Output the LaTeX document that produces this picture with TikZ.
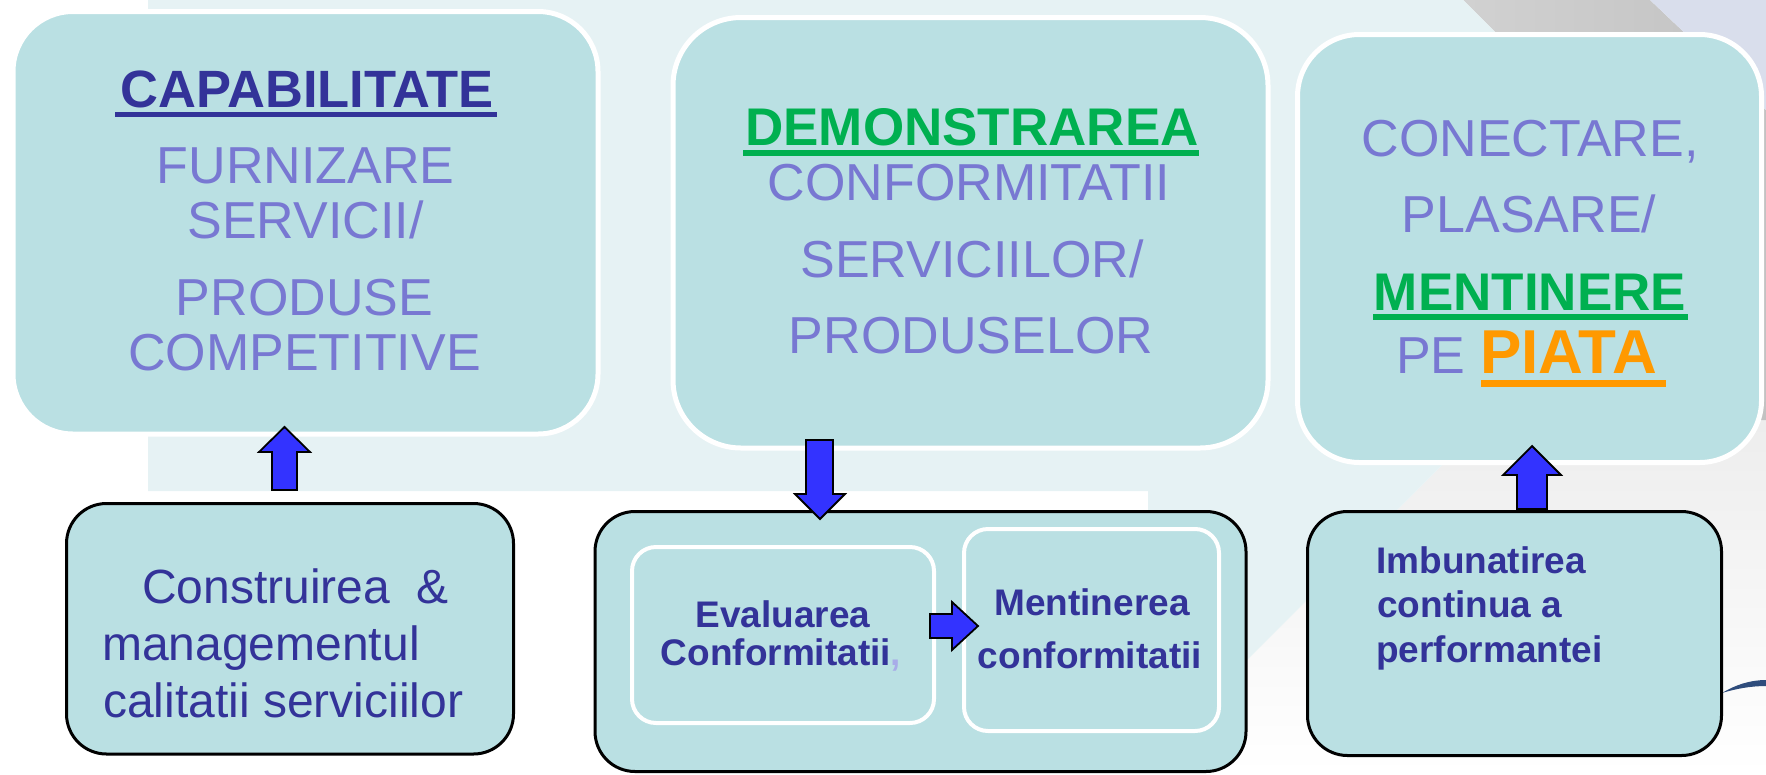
\documentclass[tikz,border=0pt]{standalone}
\usepackage{fontspec}
\setmainfont{Liberation Sans}
\definecolor{boxfill}{HTML}{BAE0E3}
\definecolor{bandc}{HTML}{E6F2F4}
\definecolor{peri}{HTML}{7878D2}
\definecolor{navy}{HTML}{333399}
\definecolor{grn}{HTML}{00B050}
\definecolor{orng}{HTML}{FF9900}
\definecolor{arrblue}{HTML}{3333FF}
\definecolor{lav}{HTML}{D9DEEC}
\definecolor{swooshc}{HTML}{2E4C7C}
\definecolor{commac}{HTML}{A8ACE8}
\newcommand\fs[1]{\fontsize{#1}{#1}\selectfont}
\begin{document}
\begin{tikzpicture}[x=1pt,y=-1pt,
 topbox/.style={draw=white,line width=5pt,fill=boxfill,inner sep=0pt},
 botbox/.style={draw=black,line width=3pt,fill=boxfill,inner sep=0pt,rounded corners=40pt},
 innerbox/.style={draw=white,line width=4pt,fill=boxfill,inner sep=0pt,rounded corners=24pt},
 big/.style={inner sep=0pt,anchor=base,text=peri,font=\fs{52}},
 head/.style={inner sep=0pt,anchor=base,font=\fs{53}\bfseries},
 small/.style={inner sep=0pt,anchor=base,text=navy,font=\fs{37}\bfseries},
 lefttxt/.style={inner sep=0pt,anchor=base west,text=navy,font=\fs{48}},
 barrow/.style={draw=black,line width=1.8pt,fill=arrblue,line join=miter},
]
\useasboundingbox (0,0) rectangle (1766,774);
% background decoration
\shade[top color=gray!15,bottom color=white] (1507,400)--(1766,400)--(1766,774)--(1133,774)--cycle;
\shade[left color=gray!36,right color=gray!48] (1463,0)--(1650,0)--(1766,110)--(1766,420)--(1520,420)--(1520,57)--cycle;
\fill[lav] (1650,0)--(1766,0)--(1766,110)--cycle;
\fill[bandc] (148,0)--(1463,0)--(1520,57)--(1520,387)--(1148,759)--(1148,491)--(148,491)--cycle;
\fill[swooshc] (1722,693) .. controls (1735,685) and (1750,680) .. (1766,680) -- (1766,686) .. controls (1750,686) and (1735,689) .. (1722,693) -- cycle;
% top boxes
\node[topbox,rounded corners=60pt,minimum width=585pt,minimum height=422.5pt] (b1) at (305.5,222.75) {};
\node[topbox,rounded corners=68pt,minimum width=595pt,minimum height=430.5pt] (b2) at (970.5,232.75) {};
\node[topbox,rounded corners=62pt,minimum width=464pt,minimum height=428pt] (b3) at (1529.5,248.5) {};
% bottom boxes
\node[botbox,minimum width=447pt,minimum height=250.5pt] (b4) at (290,628.75) {};
\node[botbox,minimum width=651pt,minimum height=260pt] (b5) at (920.5,641.5) {};
\node[innerbox,minimum width=302pt,minimum height=176pt] (ba) at (783,635) {};
\node[innerbox,minimum width=255pt,minimum height=202pt] (bb) at (1091.5,630) {};
\node[botbox,minimum width=414pt,minimum height=244pt] (b6) at (1514.5,633.5) {};
% arrows
\draw[barrow] (272,490)--(272,452)--(259,452)--(284.5,427)--(310,452)--(297,452)--(297,490)--cycle;
\draw[barrow] (806,440)--(833,440)--(833,494)--(845,494)--(820,519)--(795,494)--(806,494)--cycle;
\draw[barrow] (930,614)--(952,614)--(952,602)--(978,626)--(952,650)--(952,638)--(930,638)--cycle;
\draw[barrow] (1517,509)--(1517,475)--(1503,475)--(1532,446)--(1561,475)--(1547,475)--(1547,509)--cycle;
% box 1 text
\node[head,text=navy,font=\fs{52.5}\bfseries] (t1) at (307,107) {CAPABILITATE};
\fill[navy] (115,112) rectangle (497,117);
\node[big] (t2) at (305.5,183) {FURNIZARE};
\node[big] (t3) at (305.5,238) {SERVICII/};
\node[big] (t4) at (304.5,315) {PRODUSE};
\node[big] (t5) at (304.5,370) {COMPETITIVE};
% box 2 text
\node[head,text=grn] (t6) at (972,145) {DEMONSTRAREA};
\fill[grn] (743,150) rectangle (1199,156);
\node[big] (t7) at (969,200) {CONFORMITATII};
\node[big] (t8) at (972,277) {SERVICIILOR/};
\node[big] (t9) at (971,353) {PRODUSELOR};
% box 3 text
\node[big] (t10) at (1530,156) {CONECTARE,};
\node[big] (t11) at (1529,232) {PLASARE/};
\node[head,text=grn] (t12) at (1530,310) {MENTINERE};
\fill[grn] (1373,314) rectangle (1688,320);
\node[big,anchor=base west] (t13) at (1396,373) {PE \textcolor{orng}{\fs{62}\bfseries PIATA}};
\fill[orng] (1481,380) rectangle (1666,387);
% box 4 text
\node[lefttxt] (t14) at (142,603) {Construirea\ \ \&};
\node[lefttxt] (t15) at (102,660) {managementul};
\node[lefttxt] (t16) at (103,717) {calitatii serviciilor};
% box 5 text
\node[small] (t17) at (783,627) {Evaluarea};
\node[small] (t18) at (781,665) {Conformitatii\textcolor{commac}{,}};
\node[small] (t19) at (1092,615) {Mentinerea};
\node[small] (t20) at (1090,668) {conformitatii};
% box 6 text
\node[small,anchor=base west] (t21) at (1376,573) {Imbunatirea};
\node[small,anchor=base west] (t22) at (1377,617) {continua a};
\node[small,anchor=base west] (t23) at (1376,662) {performantei};
\end{tikzpicture}
\end{document}
